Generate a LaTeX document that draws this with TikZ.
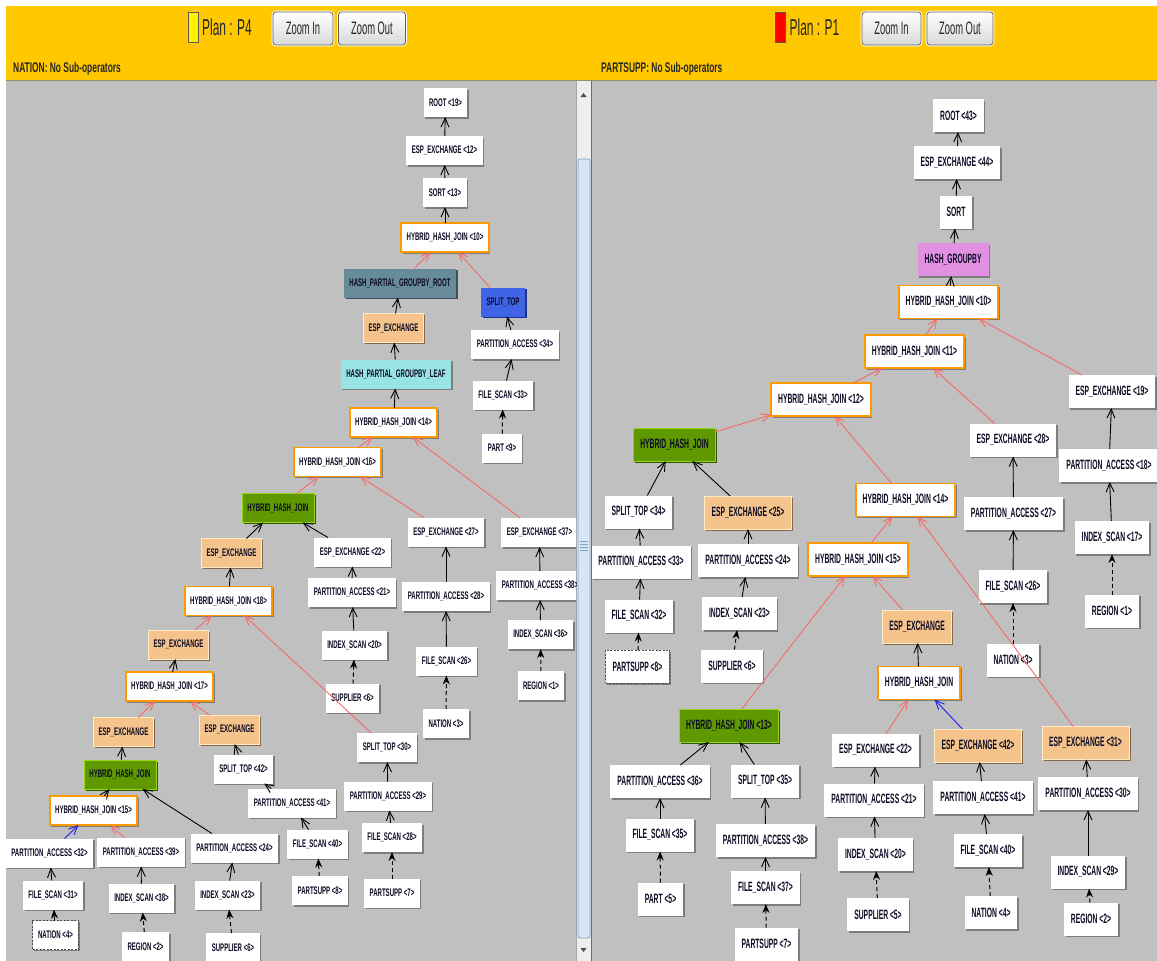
\documentclass[tikz,border=0pt]{standalone}
\usepackage{fontspec}
\setmainfont{Liberation Sans}
\newfontfamily\nfL[FakeStretch=0.55]{Liberation Sans}
\newfontfamily\nfR[FakeStretch=0.5]{Liberation Sans}
\newfontfamily\hfont[FakeStretch=0.52]{Liberation Sans}
\newfontfamily\sfont[FakeStretch=0.6]{Liberation Sans}
\usetikzlibrary{arrows.meta,shadows}
\definecolor{hdr}{RGB}{255,200,0}
\definecolor{hdrline}{RGB}{150,140,110}
\definecolor{panel}{RGB}{192,192,192}
\definecolor{orng}{RGB}{255,153,0}
\definecolor{tanf}{RGB}{244,196,140}
\definecolor{tanl}{RGB}{255,236,196}
\definecolor{tand}{RGB}{130,105,75}
\definecolor{grnf}{RGB}{96,152,0}
\definecolor{grnl}{RGB}{150,214,20}
\definecolor{grnd}{RGB}{55,85,10}
\definecolor{steel}{RGB}{104,139,153}
\definecolor{steeld}{RGB}{60,80,90}
\definecolor{royal}{RGB}{64,100,230}
\definecolor{royald}{RGB}{30,50,140}
\definecolor{cyanf}{RGB}{152,228,228}
\definecolor{pinkf}{RGB}{226,144,226}
\definecolor{redln}{RGB}{245,105,105}
\definecolor{blueln}{RGB}{30,30,235}
\definecolor{txt}{RGB}{10,10,35}
\definecolor{shdc}{RGB}{125,125,125}
\definecolor{sbbg}{RGB}{238,238,238}
\definecolor{thumb}{RGB}{214,230,245}
\definecolor{thumbd}{RGB}{130,160,195}
\newcommand\hhj{HYBRID\_HASH\_JOIN}
\newcommand\pacc{PARTITION\_ACCESS}
\newcommand\espx{ESP\_EXCHANGE}
\newcommand\fscan{FILE\_SCAN}
\newcommand\iscan{INDEX\_SCAN}
\newcommand\splt{SPLIT\_TOP}
\begin{document}
\begin{tikzpicture}[x=1pt,y=-1pt,
  mkshadow/.style={drop shadow={shadow xshift=1.6pt,shadow yshift=-1.6pt,fill=#1,opacity=1}},
  opbox/.style={rectangle, fill=white, text=txt, inner ysep=0pt, outer sep=0pt, mkshadow=shdc},
  lf/.style={opbox, font=\nfL\bfseries\fontsize{11}{12}\selectfont, minimum height=29pt, inner xsep=5.5pt},
  rt/.style={opbox, font=\nfR\bfseries\fontsize{13.5}{15}\selectfont, minimum height=33pt, inner xsep=7pt},
  hjbox/.style={draw=orng, line width=1.8pt},
  exbox/.style={fill=tanf, draw=tanl, line width=0.8pt, mkshadow=tand},
  grbox/.style={fill=grnf, draw=grnl, line width=0.8pt, mkshadow=grnd},
  stbox/.style={fill=steel, mkshadow=steeld},
  blbox/.style={fill=royal, mkshadow=royald},
  cybox/.style={fill=cyanf},
  pkbox/.style={fill=pinkf},
  selbox/.style={draw=gray!60!black, dash pattern=on 2pt off 1.5pt, line width=0.8pt},
  btnbox/.style={rectangle, rounded corners=3pt, draw=gray!75!black, line width=0.8pt,
     top color=white, bottom color=gray!30, text=black!85, inner sep=0pt,
     font=\hfont\fontsize{18}{20}\selectfont, minimum height=33pt,
     preaction={draw=white, line width=2.6pt}},
  icon/.style={rectangle, draw=gray!70!black, line width=0.8pt, minimum width=10pt, minimum height=30pt, inner sep=0pt},
  eblack/.style={draw=black, line width=0.9pt, -{Straight Barb[length=9pt,width=8pt]}},
  ered/.style={eblack, draw=redln},
  eblue/.style={eblack, draw=blueln},
  edash/.style={draw=black, line width=1pt, dash pattern=on 4pt off 3pt, -{Stealth[length=9pt,width=7pt]}}
]
\useasboundingbox (0,0) rectangle (1157,961);
\fill[white] (0,0) rectangle (1157,961);
% header
\fill[hdr] (6,6) rectangle (1157,80);
\draw[hdrline, line width=1.2pt] (6,80.5) -- (1157,80.5);
\fill[panel] (6,81) rectangle (576,961);
\fill[panel] (592,81) rectangle (1157,961);
% scrollbar
\fill[sbbg] (576,81) rectangle (592,961);
\draw[gray!70, line width=0.8pt] (576.5,81) -- (576.5,961);
\draw[thumbd!70!black, line width=1pt] (591.5,81) -- (591.5,961);
\fill[black!70] (580.5,97) -- (583.5,93) -- (586.5,97) -- cycle;
\draw[rounded corners=2pt, fill=thumb, draw=thumbd, line width=0.8pt] (578,159) rectangle (590,938);
\foreach \yy in {541,544,547,550} \draw[thumbd, line width=0.7pt] (580,\yy) -- (588,\yy);
\fill[black!70] (580.5,948) -- (583.5,952) -- (586.5,948) -- cycle;
% header items
\node[icon, fill=yellow] (icL) at (193,27.5) {};
\node[anchor=base west, inner sep=0pt, font=\hfont\fontsize{23}{26}\selectfont, text=black!85] (planL) at (202,35.5) {Plan : P4};
\node[btnbox, minimum width=60pt] (zinL) at (303,28.5) {Zoom In};
\node[btnbox, minimum width=67pt] (zoutL) at (372,28.5) {Zoom Out};
\node[anchor=base west, inner sep=0pt, font=\sfont\bfseries\fontsize{14}{16}\selectfont, text=black!85] (infoL) at (13,72.5) {NATION: No Sub-operators};
\node[icon, fill=red] (icR) at (780.5,27.5) {};
\node[anchor=base west, inner sep=0pt, font=\hfont\fontsize{23}{26}\selectfont, text=black!85] (planR) at (789.5,35.5) {Plan : P1};
\node[btnbox, minimum width=59pt] (zinR) at (891.5,28.5) {Zoom In};
\node[btnbox, minimum width=66pt] (zoutR) at (960,28.5) {Zoom Out};
\node[anchor=base west, inner sep=0pt, font=\sfont\bfseries\fontsize{14}{16}\selectfont, text=black!85] (infoR) at (601,72.5) {PARTSUPP: No Sub-operators};

% ================= LEFT PANEL (P4)
\begin{scope}
\clip (6,81) rectangle (576,961);
\node[lf] (l19) at (445.5,102.5) {ROOT <19>};
\node[lf] (l12) at (444.5,150.5) {\espx{} <12>};
\node[lf] (l13) at (445,192.5) {SORT <13>};
\node[lf,hjbox] (l10) at (445,237.5) {\hhj{} <10>};
\node[lf,stbox] (lhpgr) at (400,283) {HASH\_PARTIAL\_GROUPBY\_ROOT};
\node[lf,blbox] (lsplA) at (503,302) {\splt};
\node[lf,exbox] (lexA) at (393.5,328) {\espx};
\node[lf] (l34) at (515,344.5) {\pacc{} <34>};
\node[lf,cybox] (lhpgl) at (396,374) {HASH\_PARTIAL\_GROUPBY\_LEAF};
\node[lf] (l33) at (503,395) {\fscan{} <33>};
\node[lf,hjbox] (l14) at (393.5,422.5) {\hhj{} <14>};
\node[lf] (l9) at (502,448) {PART <9>};
\node[lf,hjbox] (l16) at (337.5,462) {\hhj{} <16>};
\node[lf,grbox] (lgA) at (278,508) {\hhj};
\node[lf] (l27) at (446,532) {\espx{} <27>};
\node[lf] (l37) at (539.5,532.5) {\espx{} <37>};
\node[lf,exbox] (lexB) at (231.5,553) {\espx};
\node[lf] (l22) at (352.5,552) {\espx{} <22>};
\node[lf] (l21) at (352,592.5) {\pacc{} <21>};
\node[lf] (l28) at (446,596.5) {\pacc{} <28>};
\node[lf] (l38) at (540,585.5) {\pacc{} <38>};
\node[lf,hjbox] (l18) at (228.5,601) {\hhj{} <18>};
\node[lf] (l20) at (354.5,645) {\iscan{} <20>};
\node[lf] (l36) at (540.5,634.5) {\iscan{} <36>};
\node[lf,exbox] (lexC) at (178.5,644.5) {\espx};
\node[lf] (l26) at (446.5,661) {\fscan{} <26>};
\node[lf,hjbox] (l17) at (169.5,686.5) {\hhj{} <17>};
\node[lf] (l6a) at (352.5,698) {SUPPLIER <6>};
\node[lf] (l1) at (541,685.5) {REGION <1>};
\node[lf] (l3) at (446,723.5) {NATION <3>};
\node[lf,exbox] (lexD) at (123.5,732) {\espx};
\node[lf,exbox] (lexE) at (229.5,729.5) {\espx};
\node[lf] (l30) at (387,747.5) {\splt{} <30>};
\node[lf] (l42) at (243.5,769) {\splt{} <42>};
\node[lf,grbox] (lgB) at (120,774.5) {\hhj};
\node[lf] (l41) at (292,803) {\pacc{} <41>};
\node[lf] (l29) at (388,796) {\pacc{} <29>};
\node[lf,hjbox] (l15) at (93.5,810.5) {\hhj{} <15>};
\node[lf] (l32) at (49.5,853) {\pacc{} <32>};
\node[lf] (l39) at (141,852) {\pacc{} <39>};
\node[lf] (l24) at (234.5,848) {\pacc{} <24>};
\node[lf] (l40) at (317.5,844) {\fscan{} <40>};
\node[lf] (l28f) at (392,837.5) {\fscan{} <28>};
\node[lf] (l31) at (53,895) {\fscan{} <31>};
\node[lf] (l38i) at (141.5,898) {\iscan{} <38>};
\node[lf] (l23) at (227.5,895) {\iscan{} <23>};
\node[lf] (l8) at (320,890.5) {PARTSUPP <8>};
\node[lf] (l7) at (392,893) {PARTSUPP <7>};
\node[lf,selbox] (l4) at (55.5,935) {NATION <4>};
\node[lf] (l2) at (145.5,946.5) {REGION <2>};
\node[lf] (l6b) at (233,947.5) {SUPPLIER <6>};
% edges
\draw[eblack] (l12) -- (l19);
\draw[eblack] (l13) -- (l12);
\draw[eblack] (l10) -- (l13);
\draw[ered] (lhpgr) -- (l10);
\draw[ered] (lsplA) -- (l10);
\draw[eblack] (lexA) -- (lhpgr);
\draw[eblack] (l34) -- (lsplA);
\draw[eblack] (lhpgl) -- (lexA);
\draw[eblack] (l33) -- (l34);
\draw[eblack] (l14) -- (lhpgl);
\draw[edash] (l9) -- (l33);
\draw[ered] (l16) -- (l14);
\draw[ered] (l37) -- (l14);
\draw[ered] (lgA) -- (l16);
\draw[ered] (l27) -- (l16);
\draw[eblack] (l22) -- (lgA);
\draw[eblack] (lexB) -- (lgA);
\draw[eblack] (l18) -- (lexB);
\draw[eblack] (l21) -- (l22);
\draw[eblack] (l20) -- (l21);
\draw[edash] (l6a) -- (l20);
\draw[eblack] (l28) -- (l27);
\draw[eblack] (l26) -- (l28);
\draw[edash] (l3) -- (l26);
\draw[eblack] (l38) -- (l37);
\draw[eblack] (l36) -- (l38);
\draw[edash] (l1) -- (l36);
\draw[ered] (lexC) -- (l18);
\draw[ered] (l30) -- (l18);
\draw[eblack] (l17) -- (lexC);
\draw[ered] (lexD) -- (l17);
\draw[ered] (lexE) -- (l17);
\draw[eblack] (lgB) -- (lexD);
\draw[eblack] (l42) -- (lexE);
\draw[eblack] (l41) -- (l42);
\draw[eblack] (l40) -- (l41);
\draw[edash] (l8) -- (l40);
\draw[eblack] (l29) -- (l30);
\draw[eblack] (l28f) -- (l29);
\draw[edash] (l7) -- (l28f);
\draw[eblack] (l15) -- (lgB);
\draw[eblack] (l24) -- (lgB);
\draw[eblue] (l32) -- (l15);
\draw[ered] (l39) -- (l15);
\draw[eblack] (l31) -- (l32);
\draw[edash] (l4) -- (l31);
\draw[eblack] (l38i) -- (l39);
\draw[edash] (l2) -- (l38i);
\draw[eblack] (l23) -- (l24);
\draw[edash] (l6b) -- (l23);
\end{scope}

% ================= RIGHT PANEL (P1)
\begin{scope}
\clip (592,81) rectangle (1157,961);
\node[rt] (r43) at (958.5,115.5) {ROOT <43>};
\node[rt] (r44) at (957,162.5) {\espx{} <44>};
\node[rt] (rsort) at (956,212) {SORT};
\node[rt,pkbox] (rhg) at (953,259.5) {HASH\_GROUPBY};
\node[rt,hjbox] (r10) at (948.5,302) {\hhj{} <10>};
\node[rt,hjbox] (r11) at (914.5,351.5) {\hhj{} <11>};
\node[rt] (r19) at (1112,391.5) {\espx{} <19>};
\node[rt,hjbox] (r12) at (821,399.5) {\hhj{} <12>};
\node[rt,grbox] (rgC) at (674.5,444.5) {\hhj};
\node[rt] (r28) at (1013,440) {\espx{} <28>};
\node[rt] (r18) at (1109,465.5) {\pacc{} <18>};
\node[rt,hjbox] (r14) at (905.5,500) {\hhj{} <14>};
\node[rt] (r34) at (638.5,512) {\splt{} <34>};
\node[rt,exbox] (r25) at (748,512.5) {\espx{} <25>};
\node[rt] (r27) at (1013.5,513.5) {\pacc{} <27>};
\node[rt] (r17) at (1112,537.5) {\iscan{} <17>};
\node[rt,hjbox] (r15) at (858,559.5) {\hhj{} <15>};
\node[rt] (r33) at (641,562) {\pacc{} <33>};
\node[rt] (r24) at (748,560.5) {\pacc{} <24>};
\node[rt] (r26) at (1013,586.5) {\fscan{} <26>};
\node[rt] (r32) at (639,616) {\fscan{} <32>};
\node[rt] (r23) at (739.5,613.5) {\iscan{} <23>};
\node[rt] (r1) at (1112,611) {REGION <1>};
\node[rt,exbox] (rexT) at (917,626.5) {\espx};
\node[rt,selbox] (r8) at (637.5,666.5) {PARTSUPP <8>};
\node[rt] (r6) at (732,666) {SUPPLIER <6>};
\node[rt] (r3) at (1013,660) {NATION <3>};
\node[rt,hjbox] (rX) at (919,683) {\hhj};
\node[rt,grbox] (r13) at (729,725.5) {\hhj{} <13>};
\node[rt] (r22) at (875.5,750) {\espx{} <22>};
\node[rt,exbox] (r42) at (978,745.5) {\espx{} <42>};
\node[rt,exbox] (r31) at (1085.5,743) {\espx{} <31>};
\node[rt] (r36) at (660,781.5) {\pacc{} <36>};
\node[rt] (r35s) at (765,781) {\splt{} <35>};
\node[rt] (r21) at (874,800) {\pacc{} <21>};
\node[rt] (r41) at (983,797.5) {\pacc{} <41>};
\node[rt] (r30) at (1088,793.5) {\pacc{} <30>};
\node[rt] (r35f) at (660,835) {\fscan{} <35>};
\node[rt] (r38) at (765.5,840.5) {\pacc{} <38>};
\node[rt] (r20) at (875.5,854.5) {\iscan{} <20>};
\node[rt] (r40) at (988,850.5) {\fscan{} <40>};
\node[rt] (r29) at (1088,872) {\iscan{} <29>};
\node[rt] (r5p) at (660.5,899) {PART <5>};
\node[rt] (r37) at (765.5,887.5) {\fscan{} <37>};
\node[rt] (r5s) at (878,914.5) {SUPPLIER <5>};
\node[rt] (r4) at (991,912.5) {NATION <4>};
\node[rt] (r2) at (1091,919) {REGION <2>};
\node[rt] (r7) at (766.5,944) {PARTSUPP <7>};
% edges
\draw[eblack] (r44) -- (r43);
\draw[eblack] (rsort) -- (r44);
\draw[eblack] (rhg) -- (rsort);
\draw[eblack] (r10) -- (rhg);
\draw[ered] (r11) -- (r10);
\draw[ered] (r19) -- (r10);
\draw[ered] (r12) -- (r11);
\draw[ered] (r28) -- (r11);
\draw[ered] (rgC) -- (r12);
\draw[ered] (r14) -- (r12);
\draw[eblack] (r18) -- (r19);
\draw[eblack] (r17) -- (r18);
\draw[edash] (r1) -- (r17);
\draw[eblack] (r27) -- (r28);
\draw[eblack] (r26) -- (r27);
\draw[edash] (r3) -- (r26);
\draw[eblack] (r34) -- (rgC);
\draw[eblack] (r25) -- (rgC);
\draw[eblack] (r33) -- (r34);
\draw[eblack] (r32) -- (r33);
\draw[edash] (r8) -- (r32);
\draw[eblack] (r24) -- (r25);
\draw[eblack] (r23) -- (r24);
\draw[edash] (r6) -- (r23);
\draw[ered] (r15) -- (r14);
\draw[ered] (r31) -- (r14);
\draw[ered] (r13) -- (r15);
\draw[ered] (rexT) -- (r15);
\draw[eblack] (rX) -- (rexT);
\draw[ered] (r22) -- (rX);
\draw[eblue] (r42) -- (rX);
\draw[eblack] (r36) -- (r13);
\draw[eblack] (r35s) -- (r13);
\draw[eblack] (r35f) -- (r36);
\draw[edash] (r5p) -- (r35f);
\draw[eblack] (r38) -- (r35s);
\draw[eblack] (r37) -- (r38);
\draw[edash] (r7) -- (r37);
\draw[eblack] (r21) -- (r22);
\draw[eblack] (r20) -- (r21);
\draw[edash] (r5s) -- (r20);
\draw[eblack] (r41) -- (r42);
\draw[eblack] (r40) -- (r41);
\draw[edash] (r4) -- (r40);
\draw[eblack] (r30) -- (r31);
\draw[eblack] (r29) -- (r30);
\draw[edash] (r2) -- (r29);
\end{scope}
\end{tikzpicture}
\end{document}
